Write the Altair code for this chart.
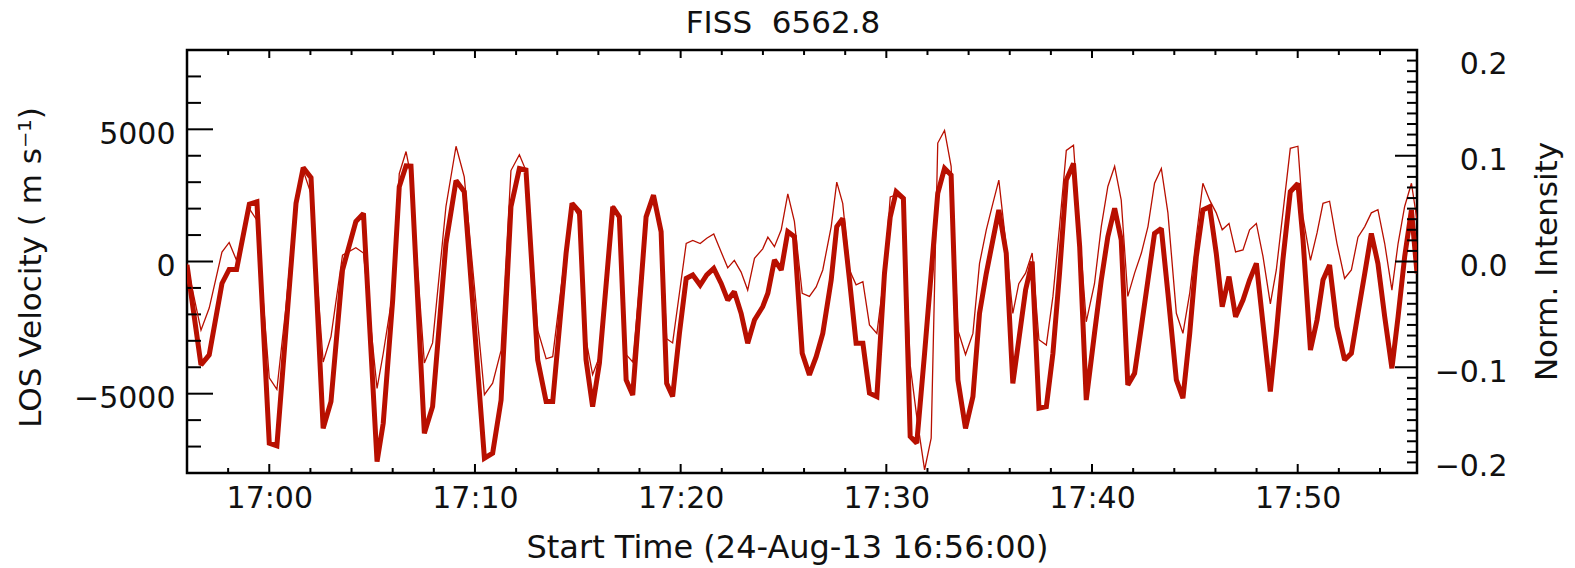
import altair as alt
import pandas as pd

# ---- data ----
# time in minutes after the start time 16:56:00
TIME_MIN = [
    0.00, 0.68, 1.08, 1.70, 2.05, 2.41, 3.03, 3.40, 4.00, 4.37,
    4.81, 5.30, 5.65, 6.03, 6.62, 7.00, 7.56, 8.21, 8.58, 9.24,
    9.54, 10.00, 10.32, 10.65, 10.89, 11.54, 11.94, 12.59, 13.08, 13.48,
    14.46, 14.86, 15.27, 15.75, 16.16, 16.48, 17.05, 17.46, 17.78, 18.43,
    18.72, 19.08, 19.40, 19.72, 20.05, 20.70, 21.02, 21.35, 21.67, 22.32,
    22.68, 23.05, 23.32, 23.61, 23.94, 24.27, 24.59, 24.95, 25.27, 25.61,
    25.97, 26.29, 26.61, 26.94, 27.26, 27.59, 27.99, 28.24, 28.56, 28.89,
    29.21, 29.53, 29.91, 30.26, 30.59, 30.91, 31.32, 31.59, 31.88, 32.21,
    32.53, 32.86, 33.18, 33.54, 33.91, 34.19, 34.48, 34.83, 35.16, 35.48,
    35.86, 36.18, 36.50, 36.83, 37.15, 37.48, 37.85, 38.21, 38.53, 38.86,
    39.18, 39.47, 39.83, 40.15, 40.44, 40.77, 41.09, 41.42, 41.78, 42.10,
    42.42, 42.75, 43.10, 43.40, 43.72, 44.12, 44.45, 44.77, 45.10, 45.42,
    45.74, 46.07, 46.40, 46.72, 47.04, 47.37, 47.69, 48.10, 48.42, 48.75,
    49.07, 49.39, 49.72, 50.04, 50.33, 50.66, 50.98, 51.34, 51.66, 51.99,
    52.31, 52.67, 52.96, 53.28, 53.64, 54.01, 54.26, 54.62, 54.94, 55.23,
    55.55, 55.91, 56.28, 56.61, 56.93, 57.26, 57.58, 57.90, 58.23, 58.58,
    58.88, 59.20, 59.53, 59.80,
]

# LOS velocity (m/s), thick line, left axis
VELOCITY = [
    -130, -3910, -3530, -830, -300, -300, 2170, 2260, -6870, -6970,
    -2590, 2200, 3550, 3170, -6310, -5300, -320, 1510, 1820, -7570,
    -6120, -1460, 2830, 3620, 3610, -6500, -5490, 690, 3060, 2640,
    -7440, -7250, -5240, 2070, 3520, 3460, -3720, -5300, -5300, 310,
    2200, 1880, -3720, -5490, -3850, 2070, 1690, -4480, -5050, 1690,
    2510, 1130, -4610, -5110, -2720, -640, -510, -890, -510, -260,
    -830, -1460, -1140, -1960, -3090, -2210, -1710, -1200, 60, -320,
    1130, 940, -3470, -4290, -3600, -2720, -700, 1320, 1630, -700,
    -3090, -3090, -4980, -5110, -450, 1690, 2640, 2390, -6620, -6870,
    -3470, -450, 2580, 3520, 3270, -4480, -6310, -5110, -1960, -450,
    810, 1950, 310, -4610, -2970, -1080, 0, -5550, -5490, -3470,
    -450, 3080, 3710, 560, -5240, -2720, -700, 940, 2010, 810,
    -4670, -4230, -2460, -700, 1060, 1250, -1200, -4480, -5170, -2720,
    180, 1950, 2070, 310, -1710, -570, -2090, -1460, -700, -70,
    -2340, -4920, -2720, 60, 2640, 2950, 810, -3350, -2210, -700,
    -130, -2460, -3720, -3470, -1960, -450, 1060, -70, -2090, -4040,
    -2090, 180, 1950, -450,
]

# normalised intensity, thin line, right axis
INTENSITY = [
    -0.002, -0.065, -0.044, 0.009, 0.018, 0.001, 0.050, 0.039, -0.110, -0.121,
    -0.043, 0.061, 0.086, 0.064, -0.095, -0.071, 0.006, 0.013, 0.008, -0.120,
    -0.087, -0.030, 0.083, 0.104, 0.080, -0.096, -0.077, 0.052, 0.109, 0.080,
    -0.126, -0.115, -0.084, 0.086, 0.101, 0.086, -0.065, -0.092, -0.090, 0.014,
    0.053, 0.042, -0.074, -0.107, -0.090, 0.053, 0.038, -0.088, -0.095, 0.046,
    0.061, 0.033, -0.073, -0.077, -0.030, 0.017, 0.020, 0.017, 0.022, 0.026,
    0.009, -0.006, 0.001, -0.010, -0.027, 0.003, 0.012, 0.023, 0.014, 0.030,
    0.064, 0.038, -0.030, -0.033, -0.024, -0.008, 0.033, 0.075, 0.055, -0.008,
    -0.022, -0.019, -0.060, -0.068, -0.011, 0.061, 0.063, 0.058, -0.098, -0.147,
    -0.197, -0.167, 0.112, 0.124, 0.090, -0.065, -0.088, -0.068, -0.002, 0.030,
    0.055, 0.077, 0.014, -0.049, -0.021, -0.011, 0.008, -0.074, -0.079, -0.033,
    0.033, 0.105, 0.110, 0.027, -0.057, -0.021, 0.033, 0.071, 0.090, 0.058,
    -0.033, -0.011, 0.008, 0.033, 0.074, 0.088, 0.046, -0.049, -0.068, -0.030,
    0.023, 0.074, 0.058, 0.046, 0.030, 0.036, 0.009, 0.011, 0.030, 0.036,
    0.005, -0.040, -0.008, 0.046, 0.107, 0.109, 0.042, 0.001, 0.027, 0.055,
    0.057, 0.017, -0.016, -0.008, 0.023, 0.033, 0.046, 0.049, 0.017, -0.027,
    0.017, 0.052, 0.074, 0.039,
]

# tick positions
X_MAJOR = [4, 14, 24, 34, 44, 54]                 # 17:00 ... 17:50
X_MINOR = [m for m in range(2, 60, 2) if m not in X_MAJOR]
V_MAJOR = [-5000, 0, 5000]
V_MINOR = [v for v in range(-7000, 8000, 1000) if v not in V_MAJOR]
I_LABELS = [-0.2, -0.1, 0.0, 0.1, 0.2]
I_MAJOR = [-0.1, 0.0, 0.1]
I_MINOR = [round(k * 0.01, 2) for k in range(-19, 20) if k % 10 != 0]

RED = "#b80f00"
INK = "#111111"
FONT = "DejaVu Sans"
W, H = 1230, 423

df = pd.DataFrame({"t": TIME_MIN, "v": VELOCITY, "i": INTENSITY})

xs = alt.Scale(domain=[0, 59.8], nice=False, zero=False)
vs = alt.Scale(domain=[-8000, 8000], nice=False, zero=False)
iscale = alt.Scale(domain=[-0.2, 0.2], nice=False, zero=False)

x_axis = alt.Axis(
    values=X_MAJOR,
    labelExpr="'17:' + (datum.value < 10 ? '00' : toString(datum.value - 4))",
    ticks=False, domain=False, grid=False,
    labelPadding=10, labelFlush=False, labelOverlap=False,
    title="Start Time (24-Aug-13 16:56:00)",
    titleX=600, titleY=74, titleBaseline="middle", titleAlign="center",
    titleFontSize=32,
)
v_axis = alt.Axis(
    values=V_MAJOR, format="d",
    ticks=False, domain=False, grid=False,
    labelPadding=12, labelOffset=5, labelFlush=False, labelOverlap=False,
    title="LOS Velocity ( m s\u207b\u00b9)",
    titleX=-156, titleY=217, titleAngle=270, titleBaseline="middle",
    titleAlign="center",
)
i_axis = alt.Axis(
    orient="right", values=I_LABELS, format=".1f",
    ticks=False, domain=False, grid=False,
    labelAlign="right", labelPadding=90, labelFlush=False, labelOverlap=False,
    labelOffset={"condition": [{"test": "datum.value > 0.15", "value": 14},
                               {"test": "datum.value < -0.15", "value": -7}],
                 "value": 5},
    title="Norm. Intensity",
    titleX=130, titleY=211, titleAngle=270, titleBaseline="middle",
    titleAlign="center",
)

thick = alt.Chart(df).mark_line(
    color=RED, strokeWidth=5, clip=True, strokeJoin="miter", strokeMiterLimit=2
).encode(
    x=alt.X("t:Q", scale=xs, axis=x_axis),
    y=alt.Y("v:Q", scale=vs, axis=v_axis),
)
thin = alt.Chart(df).mark_line(color=RED, strokeWidth=1.3, clip=True).encode(
    x=alt.X("t:Q", scale=xs),
    y=alt.Y("i:Q", scale=iscale, axis=i_axis),
)


def xticks(vals, y0, y1):
    return alt.Chart(pd.DataFrame({"t": vals})).mark_rule(
        color="black", strokeWidth=2
    ).encode(
        x=alt.X("t:Q", scale=xs),
        y=alt.value(y0), y2=alt.value(y1),
    )


def vticks(vals, length):
    return alt.Chart(pd.DataFrame({"v": vals})).mark_rule(
        color="black", strokeWidth=2
    ).encode(
        y=alt.Y("v:Q", scale=vs),
        x=alt.value(0), x2=alt.value(length),
    )


def iticks(vals, length):
    return alt.Chart(pd.DataFrame({"i": vals})).mark_rule(
        color="black", strokeWidth=2
    ).encode(
        y=alt.Y("i:Q", scale=iscale),
        x=alt.value(W), x2=alt.value(W - length),
    )


vel_group = alt.layer(
    thick,
    xticks(X_MAJOR, H, H - 9), xticks(X_MINOR, H, H - 5),
    xticks(X_MAJOR, 0, 8), xticks(X_MINOR, 0, 5),
    vticks(V_MAJOR, 26), vticks(V_MINOR, 14),
)
int_group = alt.layer(
    thin,
    iticks(I_MAJOR, 22), iticks(I_MINOR, 10),
)

chart = alt.layer(vel_group, int_group).resolve_scale(y="independent").properties(
    width=W, height=H,
    title=alt.TitleParams("FISS\u00a0 6562.8", anchor="middle", dx=-19, offset=9),
    autosize=alt.AutoSizeParams(type="none"),
    padding={"left": 187, "top": 50, "right": 158, "bottom": 95},
).configure_view(
    stroke="black", strokeWidth=2.5
).configure_axis(
    labelFont=FONT, titleFont=FONT, labelFontSize=30, titleFontSize=31,
    labelColor=INK, titleColor=INK, titleFontWeight="normal",
).configure_title(
    font=FONT, fontSize=31, fontWeight="normal", color=INK
)

chart.save("out.html", embed_options={"renderer": "svg", "actions": False})
